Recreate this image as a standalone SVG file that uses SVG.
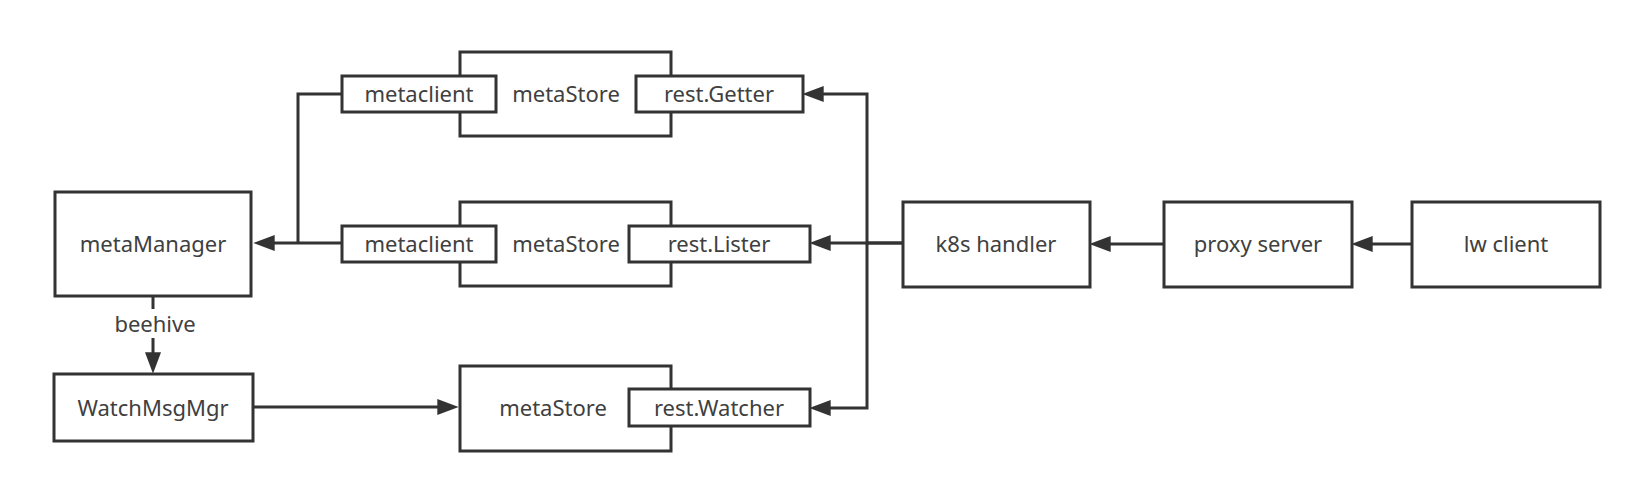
<svg xmlns="http://www.w3.org/2000/svg" width="1647" height="478" viewBox="0 0 1647 478">
<style>
.box{fill:#fff;stroke:#333;stroke-width:3}
.t{font-family:"Noto Sans","Open Sans","Liberation Sans",sans-serif;font-size:22px;fill:#404040;text-anchor:middle;dominant-baseline:central}
.c{fill:none;stroke:#333;stroke-width:3}
</style>
<defs>
<marker id="arr" markerUnits="userSpaceOnUse" markerWidth="22" markerHeight="16" refX="10" refY="7.5" orient="auto" viewBox="0 0 20 15">
<path d="M0,0 L20,7.5 L0,15 z" fill="#333"/>
</marker>
</defs>
<rect width="1647" height="478" fill="#fff"/>
<g id="connectors">
<path class="c" d="M342,94 H298 V243"/>
<path class="c" d="M342,243 H264" marker-end="url(#arr)"/>
<path class="c" d="M903,243 H867 V94 H813" marker-end="url(#arr)"/>
<path class="c" d="M903,243 H820" marker-end="url(#arr)"/>
<path class="c" d="M867,243 V408 H820" marker-end="url(#arr)"/>
<path class="c" d="M1164,244 H1100" marker-end="url(#arr)"/>
<path class="c" d="M1412,244 H1362" marker-end="url(#arr)"/>
<path class="c" d="M253,407 H448" marker-end="url(#arr)"/>
<path class="c" d="M153,296 V363" marker-end="url(#arr)"/>
<rect x="110" y="309" width="90" height="29" fill="#fff"/>
<text class="t" x="155" y="323">beehive</text>
</g>
<g id="metaManager">
<rect class="box" x="55" y="192" width="196" height="104"/>
<text class="t" x="153" y="243">metaManager</text>
</g>
<g id="WatchMsgMgr">
<rect class="box" x="54" y="374" width="199" height="67"/>
<text class="t" x="153" y="407">WatchMsgMgr</text>
</g>
<g id="metaStore1">
<rect class="box" x="460" y="52" width="211" height="84"/>
<text class="t" x="566" y="93">metaStore</text>
</g>
<g id="metaclient1">
<rect class="box" x="342" y="76" width="154" height="36"/>
<text class="t" x="419" y="93">metaclient</text>
</g>
<g id="restGetter">
<rect class="box" x="636" y="76" width="167" height="36"/>
<text class="t" x="719" y="93">rest.Getter</text>
</g>
<g id="metaStore2">
<rect class="box" x="460" y="202" width="211" height="84"/>
<text class="t" x="566" y="243">metaStore</text>
</g>
<g id="metaclient2">
<rect class="box" x="342" y="226" width="154" height="36"/>
<text class="t" x="419" y="243">metaclient</text>
</g>
<g id="restLister">
<rect class="box" x="629" y="226" width="181" height="36"/>
<text class="t" x="719" y="243">rest.Lister</text>
</g>
<g id="metaStore3">
<rect class="box" x="460" y="366" width="211" height="85"/>
<text class="t" x="553" y="407">metaStore</text>
</g>
<g id="restWatcher">
<rect class="box" x="629" y="389" width="181" height="37"/>
<text class="t" x="719" y="407">rest.Watcher</text>
</g>
<g id="k8sHandler">
<rect class="box" x="903" y="202" width="187" height="85"/>
<text class="t" x="996" y="243">k8s handler</text>
</g>
<g id="proxyServer">
<rect class="box" x="1164" y="202" width="188" height="85"/>
<text class="t" x="1258" y="243">proxy server</text>
</g>
<g id="lwClient">
<rect class="box" x="1412" y="202" width="188" height="85"/>
<text class="t" x="1506" y="243">lw client</text>
</g>
</svg>
